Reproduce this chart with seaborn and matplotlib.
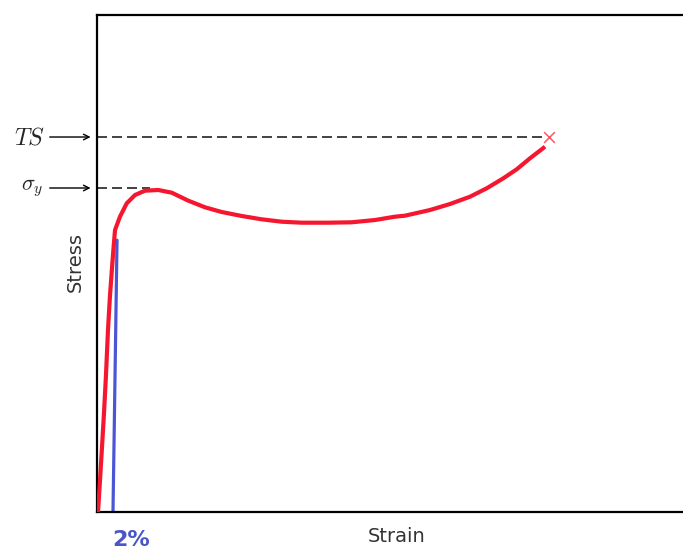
import matplotlib
matplotlib.use("Agg")
import matplotlib.pyplot as plt
import seaborn as sns
import pandas as pd

# ---- data (arbitrary strain / stress units) ----
curve_strain = [0.17, 0.50, 0.83, 1.16, 1.49, 1.82, 2.16, 2.49, 2.74, 2.99, 3.81, 4.93,
                6.30, 7.96, 10.17, 12.39, 15.14, 17.91, 20.68, 24.00, 27.31, 30.63,
                33.95, 38.36, 42.24, 46.10, 49.42, 51.08, 55.22, 58.54, 61.86, 64.63,
                67.38, 69.60, 71.81, 74.30]
curve_stress = [0.0, 6.44, 13.08, 19.92, 27.57, 36.62, 43.66, 49.10, 53.12, 56.74, 59.42,
                62.11, 63.78, 64.65, 64.79, 64.25, 62.64, 61.31, 60.36, 59.56, 58.89,
                58.41, 58.21, 58.21, 58.29, 58.75, 59.42, 59.62, 60.76, 61.97, 63.44,
                65.13, 67.14, 68.95, 71.17, 73.50]

offset_strain = [2.65, 2.82, 3.15, 3.32]
offset_stress = [0.0, 13.5, 40.6, 54.7]

ts_level = 75.45
ts_end = 74.3
fracture_strain = [74.96]
fracture_stress = [75.45]
yield_level = 65.19
yield_end = 8.79

sns.set_style("white")
plt.rcParams["mathtext.fontset"] = "cm"
plt.rcParams["font.family"] = ["DejaVu Sans"]

fig = plt.figure(figsize=(6.83, 5.5), dpi=100)
ax = fig.add_axes([97 / 683, 38 / 550, 603 / 683, 497 / 550])

df_curve = pd.DataFrame({"Strain": curve_strain, "Stress": curve_stress})
df_off = pd.DataFrame({"Strain": offset_strain, "Stress": offset_stress})

# dashed guide lines
ax.plot([0, ts_end], [ts_level, ts_level], ls=(0, (6, 3)), color="#222222", lw=1.2, zorder=1)
ax.plot([0, yield_end], [yield_level, yield_level], ls=(0, (6, 3)), color="#222222", lw=1.2, zorder=1)

sns.lineplot(data=df_curve, x="Strain", y="Stress", sort=False, estimator=None,
             color="#f5172f", lw=3.0, ax=ax, zorder=3,
             solid_joinstyle="round", solid_capstyle="butt")
sns.lineplot(data=df_off, x="Strain", y="Stress", sort=False, estimator=None,
             color="#4a56d6", lw=2.3, ax=ax, zorder=2)
sns.scatterplot(x=fracture_strain, y=fracture_stress, marker="x", s=60, color="#ff5566",
                linewidth=1.1, ax=ax, zorder=4)

ax.set_xlim(0, 100)
ax.set_ylim(0, 100)
ax.set_xticks([])
ax.set_yticks([])
for side in ["left", "top", "bottom"]:
    ax.spines[side].set_color("black")
    ax.spines[side].set_linewidth(1.6)
ax.spines["right"].set_visible(False)

# arrows and labels on the left
for lvl in (ts_level, yield_level):
    ax.annotate("", xy=(-0.6, lvl), xytext=(-8.3, lvl),
                arrowprops=dict(arrowstyle="->", color="black", lw=1.0),
                annotation_clip=False)
ax.text(-8.6, ts_level, r"$TS$", ha="right", va="center", fontsize=17, clip_on=False)
ax.text(-8.9, yield_level, r"$\sigma_y$", ha="right", va="center", fontsize=16, clip_on=False)

ax.set_xlabel("Strain", fontsize=14, color="#333333")
ax.xaxis.label.set_va("center")
ax.xaxis.set_label_coords(0.4975, -0.0503)
ax.set_ylabel("Stress", fontsize=14, color="#333333")
ax.yaxis.label.set_va("center")
ax.yaxis.set_label_coords(-0.0365, 0.503)

ax.text(0.0564, -0.0563, "2%", transform=ax.transAxes, ha="center", va="center",
        fontsize=16, fontweight="bold", color="#4a55c8", clip_on=False)

fig.savefig("out.png", dpi=100)
